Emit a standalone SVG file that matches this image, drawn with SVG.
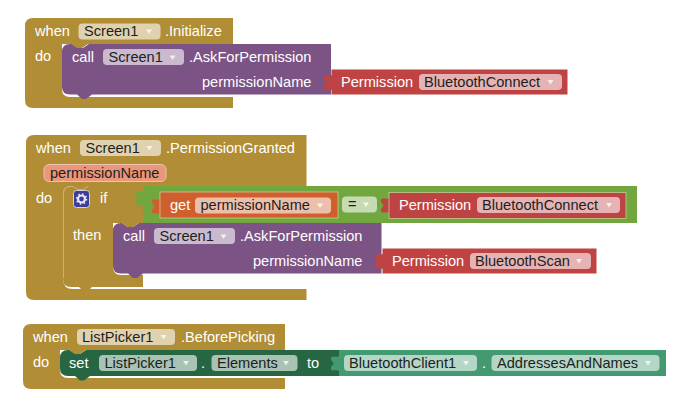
<svg xmlns="http://www.w3.org/2000/svg" width="692" height="401" viewBox="0 0 692 401">
<style>
text{font-family:"Liberation Sans",Arial,sans-serif;font-size:14.6px;fill:#fff}
.f{fill:#fff;fill-opacity:.6}
.ft{fill:#1e1e1e}
.gold{fill:#b18e35}
.purple{fill:#7c5385}
.red{fill:#bf4343}
.green{fill:#72a63e}
.orange{fill:#d05f2d}
.dgreen{fill:#266643}
.lgreen{fill:#439970}
.a{fill:#fff;fill-opacity:.75}
</style>
<defs>
<path id="tab" d="M0.500,3C-3,5 -7,2 -8,5C-8.500,8 -5.500,9 -5.500,10.500C-5.500,12 -8.500,13 -8,16C-7,19 -3,16 0.500,18Z"/>
<path id="arr" d="M-3,-2h6l-3,4.500z"/>
</defs>
<rect width="692" height="401" fill="#fff"/>

<g id="when-initialize">
<path class="gold" d="M33,18H233V44H86l-6,4h-4l-6,-4H62V89Q62,97 70,97H233V108H33Q25,108 25,100V26Q25,18 33,18Z"/>
<text x="35" y="36">when</text>
<rect class="f" x="78.500" y="23.500" width="82" height="16" rx="4"/>
<text class="ft" x="84" y="36">Screen1</text>
<use href="#arr" x="149" y="31.500" class="a"/>
<text x="165" y="36">.Initialize</text>
<text x="35" y="61">do</text>
</g>
<g id="call-askforpermission-1">
<path class="purple" d="M70,44H72l6,4h5l6,-4H331V94.500H92l-6,4.500h-4l-5,-4.500H70Q62,94.500 62,87V52Q62,44 70,44Z"/>
<path class="gold" d="M71,44l6,4h5l6,-4z"/>
<text x="72" y="62">call</text>
<rect class="f" x="103" y="49" width="81" height="16" rx="4"/>
<text class="ft" x="108.500" y="62">Screen1</text>
<use href="#arr" x="172.500" y="57.500" class="a"/>
<text x="189" y="62">.AskForPermission</text>
<text x="202" y="87">permissionName</text>
</g>
<g id="permission-connect-1">
<use href="#tab" x="331.500" y="72" class="red"/>
<rect class="red" x="331.500" y="69.500" width="236" height="25"/>
<text x="341" y="87">Permission</text>
<rect class="f" x="419" y="74" width="143" height="16" rx="4"/>
<text class="ft" x="424" y="87">BluetoothConnect</text>
<use href="#arr" x="550.500" y="82" class="a"/>
</g>

<g id="when-permissiongranted">
<path class="gold" d="M34,135H306.500V186H71Q63,186 63,194V279Q63,289 73,289H306.500V300H34Q26,300 26,292V143Q26,135 34,135Z"/>
<text x="36" y="153">when</text>
<rect class="f" x="80" y="140" width="81" height="16" rx="4"/>
<text class="ft" x="85.500" y="153">Screen1</text>
<use href="#arr" x="149.500" y="148" class="a"/>
<text x="166" y="153">.PermissionGranted</text>
<rect x="44" y="164.500" width="122" height="17" rx="5" fill="#e9967a" stroke="#f0c3ae"/>
<text class="ft" x="50" y="178">permissionName</text>
<text x="36" y="203">do</text>
</g>
<g id="if-block">
<path class="gold" d="M71,186H143V223H113V266Q113,275 121,275H143V287H71Q63,287 63,279V194Q63,186 71,186Z"/>
<path class="gold" d="M78,286h15l-4,4h-7z"/>
<path d="M63.500,278V194Q63.500,186.500 71,186.500H73l5,3h5l5,-3" fill="none" stroke="#cdbb8a" stroke-width=".8"/>
<rect x="73.500" y="190.500" width="16" height="17" rx="3" fill="#3d3d9c" stroke="#d5cfe8"/>
<circle cx="81.500" cy="199" r="3.500" fill="none" stroke="#e8e8f8" stroke-width="2.200"/>
<circle cx="81.500" cy="199" r="5" fill="none" stroke="#e8e8f8" stroke-width="1.500" stroke-dasharray="1.500 2.430"/>
<text x="100" y="203">if</text>
<text x="73" y="240">then</text>
</g>
<g id="compare-block">
<use href="#tab" x="143" y="188" class="green"/>
<rect class="green" x="143" y="186" width="494" height="37"/>
<use href="#tab" x="160" y="196" class="orange"/>
<rect class="orange" x="160" y="192" width="178" height="26" stroke="#c8d99a" stroke-width=".7"/>
<text x="170" y="210">get</text>
<rect class="f" x="195" y="197.500" width="136" height="16" rx="4"/>
<text class="ft" x="200.500" y="210">permissionName</text>
<use href="#arr" x="320" y="205.500" class="a"/>
<rect class="f" x="342" y="196.500" width="35" height="16" rx="4"/>
<text class="ft" x="348" y="209">=</text>
<use href="#arr" x="366" y="204.500" class="a"/>
</g>
<g id="permission-connect-2">
<use href="#tab" x="389" y="195" class="red"/>
<rect class="red" x="389" y="192.500" width="237" height="26" stroke="#c8d99a" stroke-width=".7"/>
<text x="399" y="210">Permission</text>
<rect class="f" x="477" y="197" width="143" height="16" rx="4"/>
<text class="ft" x="482" y="210">BluetoothConnect</text>
<use href="#arr" x="609" y="205" class="a"/>
</g>
<g id="call-askforpermission-2">
<path class="purple" d="M121,223H122l6,4h5l6,-4H381.500V273.500H143l-6,4.500h-4l-5,-4.500H121Q113,273.500 113,266V231Q113,223 121,223Z"/>
<path class="gold" d="M122,223l6,4h5l6,-4z"/>
<text x="123" y="241">call</text>
<rect class="f" x="154" y="228" width="81" height="16" rx="4"/>
<text class="ft" x="159.500" y="241">Screen1</text>
<use href="#arr" x="223.500" y="236.500" class="a"/>
<text x="240" y="241">.AskForPermission</text>
<text x="253" y="266">permissionName</text>
</g>
<g id="permission-scan">
<use href="#tab" x="382.500" y="251" class="red"/>
<rect class="red" x="382.500" y="248.500" width="214" height="25"/>
<text x="392" y="266">Permission</text>
<rect class="f" x="470" y="253" width="121" height="16" rx="4"/>
<text class="ft" x="475" y="266">BluetoothScan</text>
<use href="#arr" x="579" y="261" class="a"/>
</g>

<g id="when-beforepicking">
<path class="gold" d="M31,324H285V350H84l-6,4h-5l-6,-4H60V370Q60,378 68,378H285V389H31Q23,389 23,381V332Q23,324 31,324Z"/>
<text x="33" y="342">when</text>
<rect class="f" x="77" y="329" width="98" height="16" rx="4"/>
<text class="ft" x="82" y="342">ListPicker1</text>
<use href="#arr" x="163.500" y="337" class="a"/>
<text x="181" y="342">.BeforePicking</text>
<text x="33" y="367">do</text>
</g>
<g id="set-elements">
<path class="dgreen" d="M68,350H69l6,4h5l6,-4H339V376H90l-6,4.500h-4l-5,-4.500H68Q60,376 60,368V358Q60,350 68,350Z"/>
<path class="gold" d="M69,350l6,4h5l6,-4z"/>
<text x="69" y="368">set</text>
<rect class="f" x="99" y="355" width="98" height="16" rx="4"/>
<text class="ft" x="104.500" y="368">ListPicker1</text>
<use href="#arr" x="186" y="363" class="a"/>
<text x="201" y="368">.</text>
<rect class="f" x="211.500" y="355" width="86" height="16" rx="4"/>
<text class="ft" x="217" y="368">Elements</text>
<use href="#arr" x="286" y="363" class="a"/>
<text x="307" y="368">to</text>
</g>
<g id="bluetooth-addresses">
<use href="#tab" x="339" y="353" class="lgreen"/>
<rect class="lgreen" x="339" y="350" width="327" height="26"/>
<rect class="f" x="344" y="355" width="133" height="16" rx="4"/>
<text class="ft" x="349" y="368">BluetoothClient1</text>
<use href="#arr" x="466" y="363" class="a"/>
<text x="482" y="368">.</text>
<rect class="f" x="491.500" y="355" width="168" height="16" rx="4"/>
<text class="ft" x="497" y="368">AddressesAndNames</text>
<use href="#arr" x="648" y="363" class="a"/>
</g>
<g id="connectors"/>
</svg>
